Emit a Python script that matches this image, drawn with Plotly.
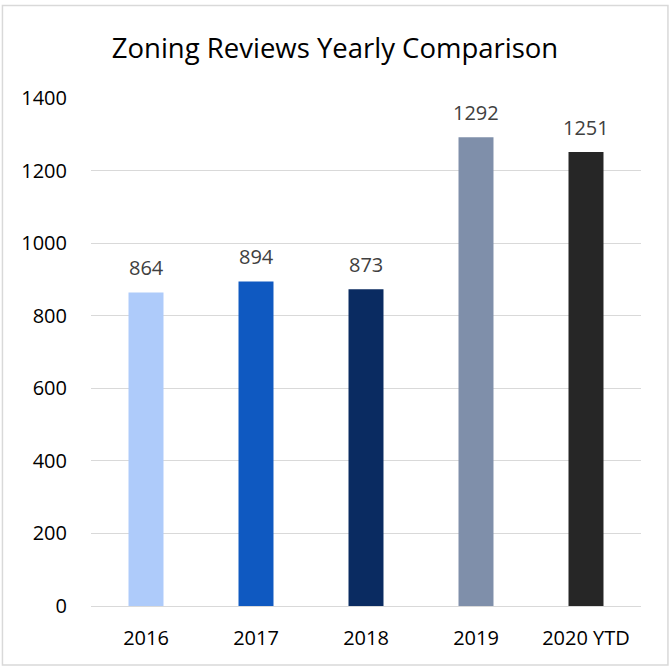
import plotly.graph_objects as go

categories = ["2016", "2017", "2018", "2019", "2020 YTD"]
reviews = [864, 894, 873, 1292, 1251]
bar_colors = ["#AECBFA", "#0F59C1", "#0A2B61", "#7F8FAA", "#262626"]
y_ticks = [0, 200, 400, 600, 800, 1000, 1200, 1400]

FONT = "Open Sans"

fig = go.Figure()
fig.add_trace(go.Bar(
    x=categories,
    y=reviews,
    marker=dict(color=bar_colors, line=dict(width=0)),
    hoverinfo="x+y",
))

for i, v in enumerate(reviews):
    fig.add_annotation(
        x=i, y=v, text=str(v), showarrow=False,
        yanchor="middle", yshift=25,
        font=dict(family=FONT, size=20, color="#404040"),
    )

fig.add_shape(
    type="rect", xref="paper", yref="paper",
    x0=-0.161, x1=1.049, y0=-0.116, y1=1.182,
    line=dict(color="#D9D9D9", width=1.5), layer="below",
)

fig.update_layout(
    width=670, height=671,
    margin=dict(l=91, r=29, t=98, b=65, autoexpand=False),
    paper_bgcolor="white", plot_bgcolor="white",
    bargap=0.682,
    showlegend=False,
    title=dict(
        text="Zoning Reviews Yearly Comparison",
        x=0.5, xanchor="center", xref="container",
        y=1 - 48 / 671, yanchor="middle", yref="container",
        font=dict(family=FONT, size=27.5, color="#000000"),
    ),
    font=dict(family=FONT, size=20, color="#000000"),
)

fig.update_yaxes(
    range=[0, 1400], tickvals=y_ticks, automargin=False,
    showgrid=True, gridcolor="#D9D9D9", gridwidth=1,
    zeroline=True, zerolinecolor="#D9D9D9", zerolinewidth=1,
    showline=False, ticks="", ticklabelstandoff=23,
    tickfont=dict(family=FONT, size=20, color="#000000"),
)
fig.update_xaxes(
    type="category", range=[-0.5, len(categories) - 0.5], automargin=False,
    showgrid=False, showline=False, ticks="",
    ticklabelstandoff=18,
    tickfont=dict(family=FONT, size=20, color="#000000"),
)

fig.write_html(
    "out.html",
    config={"displayModeBar": False},
    post_script="document.body.style.margin='0';",
)
